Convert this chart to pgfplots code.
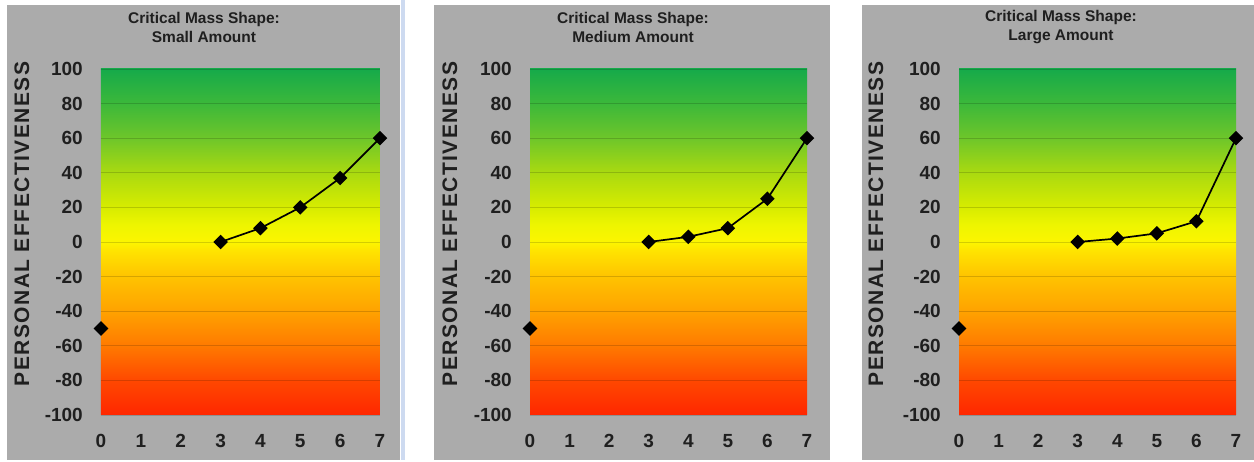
\documentclass[border=0pt]{standalone}
\usepackage{fontspec}
\setmainfont{Liberation Sans}
\newfontfamily\labelfont[LetterSpace=7]{Liberation Sans}
\usepackage{pgfplots}
\usepackage{pgfplotstable}
\pgfplotsset{compat=1.18}

% colour stops of the background, from -100 (bottom) to 100 (top)
\definecolor{gm100}{RGB}{255,38,0}
\definecolor{gm80}{RGB}{255,72,0}
\definecolor{gm60}{RGB}{255,122,0}
\definecolor{gm40}{RGB}{255,162,0}
\definecolor{gm20}{RGB}{255,195,0}
\definecolor{gm5}{RGB}{255,228,0}
\definecolor{g0}{RGB}{252,245,0}
\definecolor{g10}{RGB}{238,245,0}
\definecolor{g20}{RGB}{215,236,0}
\definecolor{g40}{RGB}{170,218,16}
\definecolor{g60}{RGB}{110,198,42}
\definecolor{g80}{RGB}{60,184,58}
\definecolor{g100}{RGB}{22,170,74}
\definecolor{panelgrey}{RGB}{171,171,171}
\definecolor{sepblue}{RGB}{205,218,240}

\pgfdeclareverticalshading{rygshade}{100bp}{%
  color(0bp)=(gm100); color(25bp)=(gm100); color(30bp)=(gm80);
  color(35bp)=(gm60); color(40bp)=(gm40); color(45bp)=(gm20);
  color(48.75bp)=(gm5); color(50bp)=(g0); color(52.5bp)=(g10);
  color(55bp)=(g20); color(60bp)=(g40); color(65bp)=(g60);
  color(70bp)=(g80); color(75bp)=(g100); color(100bp)=(g100)}

\pgfplotstableread{
x y
0 -50
1 nan
2 nan
3 0
4 8
5 20
6 37
7 60
}\smalldata

\pgfplotstableread{
x y
0 -50
1 nan
2 nan
3 0
4 3
5 8
6 25
7 60
}\mediumdata

\pgfplotstableread{
x y
0 -50
1 nan
2 nan
3 0
4 2
5 5
6 12
7 60
}\largedata

\pgfplotsset{
  cmpanel/.style={
    scale only axis, height=346pt,
    xmin=0, xmax=7, ymin=-100, ymax=100,
    xtick={0,...,7}, ytick={-100,-80,...,100},
    axis line style={draw=none}, major tick length=0pt,
    ymajorgrids, grid style={black, opacity=0.16, line width=0.6pt},
    axis background/.style={shading=rygshade},
    clip=false, unbounded coords=jump,
    /pgf/number format/assume math mode=true,
    ticklabel style={font=\bfseries\fontsize{19}{19}\selectfont, text=black!88},
    yticklabel style={anchor=east, inner sep=0pt, xshift=-18pt},
    xticklabel style={anchor=north, inner sep=0pt, yshift=-19pt},
  },
  cmline/.style={black, line width=1.7pt, mark=square*, mark size=4.3pt,
    mark options={rotate=45, solid, fill=black}},
}

\newcommand{\paneltitle}[2]{%
  \node[font=\bfseries\fontsize{15.5}{19}\selectfont, text=black!88, align=center]
    at (#1,435) {Critical Mass Shape:\\#2};}
\newcommand{\panelylabel}[1]{%
  \node[rotate=90, font=\labelfont\bfseries\fontsize{21}{21}\selectfont, text=black!88]
    at (#1,238) {PERSONAL EFFECTIVENESS};}

\begin{document}
\begin{tikzpicture}[x=1pt, y=1pt]
  \path[use as bounding box, fill=white] (0,0) rectangle (1254,462);
  % grey panels and separators
  \fill[panelgrey] (7,2) rectangle (400,457);
  \fill[sepblue] (401,2) rectangle (405,462);
  \fill[panelgrey] (434,2) rectangle (830,457);
  \fill[panelgrey] (862,2) rectangle (1254,457);

  \paneltitle{204}{Small Amount}
  \paneltitle{633}{Medium Amount}
  \paneltitle{1061}{Large Amount}
  \panelylabel{22}
  \panelylabel{450}
  \panelylabel{876}

  \begin{axis}[cmpanel, width=279pt, at={(101pt,47pt)}, anchor=south west]
    \addplot[cmline] table[x=x, y=y] {\smalldata};
  \end{axis}
  \begin{axis}[cmpanel, width=277pt, at={(530pt,47pt)}, anchor=south west]
    \addplot[cmline] table[x=x, y=y] {\mediumdata};
  \end{axis}
  \begin{axis}[cmpanel, width=277pt, at={(959pt,47pt)}, anchor=south west]
    \addplot[cmline] table[x=x, y=y] {\largedata};
  \end{axis}
\end{tikzpicture}
\end{document}
